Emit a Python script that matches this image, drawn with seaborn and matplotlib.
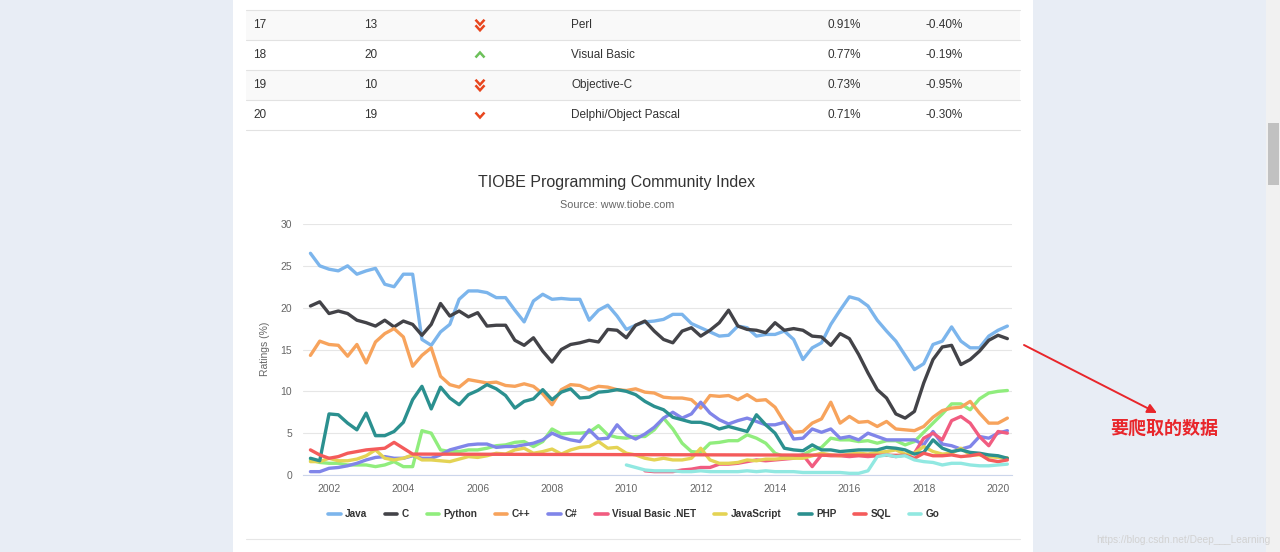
import numpy as np
import pandas as pd
import matplotlib.pyplot as plt
import seaborn as sns
from matplotlib.lines import Line2D
from matplotlib.patches import Rectangle

# quarterly sample points (mid 2001 .. Q1 2020)
years = np.arange(2001.5, 2020.3, 0.25)

java = [26.5, 25.0,
        24.6, 24.4, 25.0, 24.0,  24.4, 24.7, 22.8, 22.5,
        24.0, 24.0, 16.2, 15.5,  17.1, 18.0, 21.0, 22.0,
        22.0, 21.8, 21.2, 21.2,  19.7, 18.3, 20.8, 21.6,
        21.0, 21.1, 21.0, 21.0,  18.5, 19.7, 20.3, 19.0,
        17.4, 17.9, 18.3, 18.4,  18.6, 19.2, 19.2, 18.1,
        17.6, 17.1, 16.6, 16.7,  17.8, 17.6, 16.6, 16.8,
        16.8, 17.2, 16.2, 13.8,  15.2, 15.8, 18.0, 19.7,
        21.3, 21.0, 20.2, 18.5,  17.2, 16.0, 14.3, 12.6,
        13.3, 15.6, 16.0, 17.7,  16.0, 15.2, 15.2, 16.6,
        17.3, 17.8]
c_lang = [20.2, 20.7,
          19.3, 19.6, 19.3, 18.5,  18.2, 17.8, 18.5, 17.7,
          18.4, 18.0, 16.7, 18.0,  20.5, 19.0, 19.6, 18.9,
          19.4, 17.8, 17.9, 17.9,  16.1, 15.5, 16.4, 14.8,
          13.5, 15.0, 15.6, 15.8,  16.1, 15.9, 17.4, 17.3,
          16.4, 17.9, 18.4, 17.2,  16.2, 15.8, 17.2, 17.6,
          16.6, 17.3, 18.2, 19.7,  17.8, 17.4, 17.3, 17.0,
          18.2, 17.3, 17.5, 17.3,  16.6, 16.5, 15.5, 16.9,
          16.3, 14.4, 12.2, 10.2,  9.2, 7.3, 6.8, 7.6,
          11.0, 13.8, 15.3, 15.5,  13.2, 13.8, 14.8, 16.1,
          16.7, 16.3]
python = [1.8, 1.5,
          1.4, 1.4, 1.2, 1.2,  1.2, 1.0, 1.2, 1.6,
          1.0, 1.0, 5.3, 5.0,  3.0, 2.8, 2.8, 3.0,
          3.0, 3.2, 3.5, 3.6,  3.9, 4.0, 3.4, 4.0,
          5.5, 4.9, 5.0, 5.0,  5.1, 5.9, 4.8, 4.5,
          4.4, 4.6, 4.6, 5.4,  6.8, 5.5, 3.8, 2.8,
          2.7, 3.8, 3.9, 4.1,  4.1, 4.8, 4.4, 3.8,
          2.6, 2.2, 2.2, 2.4,  3.0, 3.3, 4.4, 4.2,
          4.2, 4.0, 4.1, 3.8,  4.1, 4.1, 3.6, 4.0,
          5.1, 6.2, 7.3, 8.5,  8.5, 7.8, 9.1, 9.8,
          10.0, 10.1]
cpp = [14.3, 16.0,
       15.6, 15.5, 14.2, 15.6,  13.4, 15.9, 16.9, 17.5,
       16.5, 13.0, 14.3, 15.2,  11.8, 10.8, 10.5, 11.4,
       11.2, 11.0, 11.1, 10.7,  10.6, 10.9, 10.6, 9.7,
       8.4, 10.2, 10.8, 10.7,  10.2, 10.6, 10.5, 10.2,
       10.1, 10.3, 9.9, 9.8,  9.3, 9.2, 9.2, 9.0,
       8.0, 9.5, 9.4, 9.5,  9.0, 9.6, 8.9, 9.0,
       8.1, 6.3, 5.1, 5.2,  6.2, 6.7, 8.7, 6.2,
       7.0, 6.3, 6.4, 5.8,  6.4, 5.5, 5.4, 5.3,
       5.8, 6.9, 7.7, 8.0,  8.1, 8.8, 7.4, 6.2,
       6.2, 6.8]
csharp = [0.4, 0.4,
          0.8, 0.9, 1.1, 1.4,  1.8, 2.1, 2.2, 2.0,
          2.0, 2.3, 2.0, 2.0,  2.4, 3.0, 3.3, 3.6,
          3.7, 3.7, 3.3, 3.4,  3.4, 3.6, 3.8, 4.2,
          5.0, 4.5, 4.2, 4.0,  5.4, 4.3, 4.4, 6.0,
          4.8, 4.3, 4.9, 5.7,  6.8, 7.5, 6.8, 7.3,
          8.7, 7.4, 6.6, 6.1,  6.5, 6.8, 6.4, 6.0,
          6.0, 6.3, 4.3, 4.4,  5.5, 5.1, 5.5, 4.4,
          4.6, 4.2, 5.0, 4.6,  4.2, 4.2, 4.2, 4.2,
          3.6, 5.2, 3.7, 3.5,  3.1, 3.4, 4.6, 4.4,
          5.0, 5.3]
vbnet = [None, None,
         None, None, None, None,  None, None, None, None,
         None, None, None, None,  None, None, None, None,
         None, None, None, None,  None, None, None, None,
         None, None, None, None,  None, None, None, None,
         None, None, 0.5, 0.4,  0.4, 0.4, 0.6, 0.7,
         0.9, 0.9, 1.3, 1.3,  1.4, 1.6, 1.8, 1.7,
         1.8, 1.9, 2.0, 2.4,  1.0, 2.4, 2.3, 2.3,
         2.2, 2.3, 2.2, 2.3,  2.4, 2.2, 2.4, 2.6,
         4.4, 5.0, 4.2, 6.5,  7.0, 6.2, 4.6, 3.5,
         5.2, 5.0]
javascript = [1.6, 1.6,
              2.0, 1.7, 1.7, 1.9,  2.3, 3.0, 2.0, 1.8,
              2.0, 2.4, 1.8, 1.8,  1.7, 1.6, 1.9, 2.2,
              2.1, 2.3, 2.6, 2.5,  3.0, 3.2, 2.6, 2.8,
              3.1, 2.5, 3.0, 3.3,  3.4, 4.0, 3.2, 3.3,
              2.6, 2.4, 2.0, 1.8,  2.0, 1.8, 1.8, 2.0,
              3.2, 1.8, 1.4, 1.4,  1.5, 1.8, 1.7, 1.9,
              1.9, 2.0, 2.0, 2.0,  2.3, 2.6, 2.4, 2.3,
              2.5, 2.6, 2.5, 2.7,  2.8, 3.0, 2.5, 2.6,
              3.4, 2.8, 2.5, 2.6,  3.2, 2.4, 2.4, 2.2,
              2.1, 2.05]
php = [2.0, 1.7,
       7.3, 7.2, 6.2, 5.4,  7.4, 4.7, 4.7, 5.2,
       6.3, 9.0, 10.6, 7.9,  10.5, 9.2, 8.4, 9.6,
       10.1, 10.8, 10.3, 9.5,  8.0, 8.8, 9.1, 10.2,
       9.0, 9.9, 10.3, 9.2,  9.3, 9.9, 10.0, 10.2,
       10.0, 9.6, 8.8, 8.2,  7.8, 6.9, 6.6, 6.3,
       6.3, 6.0, 5.5, 5.8,  5.5, 5.2, 7.2, 6.0,
       5.0, 3.2, 3.0, 2.9,  3.6, 3.0, 3.0, 2.8,
       2.9, 3.0, 3.0, 3.0,  3.3, 3.2, 3.0, 2.5,
       2.7, 4.2, 3.2, 2.8,  3.0, 2.7, 2.6, 2.4,
       2.3, 2.0]
sql = [3.0, 2.4,
       2.0, 2.2, 2.6, 2.8,  3.0, 3.1, 3.2, 3.9,
       3.2, 2.5, None, None,  None, None, None, None,
       None, None, None, None,  None, None, None, None,
       None, None, None, None,  None, None, None, None,
       None, None, None, None,  None, None, None, None,
       None, None, None, None,  None, None, None, None,
       None, None, None, None,  None, None, None, None,
       None, None, None, None,  None, None, 2.35, 2.0,
       2.6, 2.3, 2.3, 2.4,  2.2, 2.3, 2.5, 1.8,
       1.6, 1.8]
go = [None, None,
      None, None, None, None,  None, None, None, None,
      None, None, None, None,  None, None, None, None,
      None, None, None, None,  None, None, None, None,
      None, None, None, None,  None, None, None, None,
      1.2, 0.9, 0.6, 0.5,  0.5, 0.5, 0.4, 0.4,
      0.5, 0.4, 0.4, 0.4,  0.4, 0.5, 0.4, 0.5,
      0.4, 0.4, 0.4, 0.3,  0.3, 0.3, 0.3, 0.3,
      0.2, 0.2, 0.5, 2.2,  2.4, 2.2, 2.3, 1.8,
      1.6, 1.5, 1.2, 1.4,  1.4, 1.2, 1.1, 1.1,
      1.2, 1.3]

languages = ['Java', 'C', 'Python', 'C++', 'C#', 'Visual Basic .NET',
             'JavaScript', 'PHP', 'SQL', 'Go']
colors = ['#7cb5ec', '#434348', '#90ed7d', '#f7a35c', '#8085e9',
          '#f15c80', '#e4d354', '#2b908f', '#f45b5b', '#91e8e1']
year_ticks = [2002, 2004, 2006, 2008, 2010, 2012, 2014, 2016, 2018, 2020]
rating_ticks = [0, 5, 10, 15, 20, 25, 30]

# table rows above the chart
ranks = ['17', '18', '19', '20']
prev_ranks = ['13', '20', '10', '19']
table_langs = ['Perl', 'Visual Basic', 'Objective-C', 'Delphi/Object Pascal']
table_ratings = ['0.91%', '0.77%', '0.73%', '0.71%']
table_changes = ['-0.40%', '-0.19%', '-0.95%', '-0.30%']
trends = ['down2', 'up', 'down2', 'down']

wide = pd.DataFrame({'year': years})
for name, vals in zip(languages, [java, c_lang, python, cpp, csharp, vbnet,
                                  javascript, php, sql, go]):
    wide[name] = pd.to_numeric(pd.Series(vals), errors='coerce')
df = wide.melt(id_vars='year', var_name='language', value_name='rating').dropna()

sns.set_style('white')
plt.rcParams['font.family'] = ['Liberation Sans', 'DejaVu Sans']

W, H = 1280, 552
fig = plt.figure(figsize=(12.8, 5.52), dpi=100)
fig.patch.set_facecolor('#e8edf5')

# page layer in pixel coordinates
page = fig.add_axes([0, 0, 1, 1])
page.set_xlim(0, W)
page.set_ylim(H, 0)
page.axis('off')
page.add_patch(Rectangle((233, 0), 800, H, color='white', lw=0))
page.add_patch(Rectangle((1266, 0), 14, H, color='#f1f1f1', lw=0))
page.add_patch(Rectangle((1267.5, 123), 11, 62, color='#c1c1c1', lw=0))


def chevron(x, y, up, color):
    d = -1 if up else 1
    page.plot([x - 4.5, x, x + 4.5], [y - 2.5 * d, y + 2.5 * d, y - 2.5 * d],
              color=color, lw=1.8, solid_joinstyle='miter', solid_capstyle='butt')


page.plot([246, 1020], [10, 10], color='#e2e2e2', lw=0.8)
for i in range(len(ranks)):
    yc = 25 + 30 * i
    if i % 2 == 0:
        page.add_patch(Rectangle((246, yc - 15), 774, 30, color='#f9f9f9', lw=0))
    page.plot([246, 1020], [yc + 15, yc + 15], color='#e2e2e2', lw=0.8)
    tkw = dict(va='center', ha='left', fontsize=8.5, color='#333333')
    page.text(253, yc, ranks[i], **tkw)
    page.text(364, yc, prev_ranks[i], **tkw)
    page.text(571, yc, table_langs[i], **tkw)
    page.text(828, yc, table_ratings[i], **tkw)
    page.text(926, yc, table_changes[i], **tkw)
    if trends[i] == 'up':
        chevron(480, yc, True, '#6cc05a')
    elif trends[i] == 'down':
        chevron(480, yc, False, '#e8461e')
    else:
        chevron(480, yc - 2.8, False, '#e8461e')
        chevron(480, yc + 2.8, False, '#e8461e')

page.text(617, 182, 'TIOBE Programming Community Index', ha='center',
          va='center', fontsize=11.5, color='#333333')
page.text(617, 205, 'Source: www.tiobe.com', ha='center', va='center',
          fontsize=7.8, color='#666666')
page.text(265, 349, 'Ratings (%)', rotation=90, ha='center', va='center',
          fontsize=7.5, color='#666666')
page.plot([246, 1020], [539, 539], color='#e6e6e6', lw=0.8)

# annotation
page.annotate('', xy=(1157, 413), xytext=(1024, 345),
              arrowprops=dict(arrowstyle='-|>', color='#e8262b', lw=1.4,
                              mutation_scale=14, shrinkA=0, shrinkB=0))
page.text(1164, 428, '要爬取的数据', family=['Noto Sans CJK SC', 'DejaVu Sans'],
          fontweight='bold', fontsize=13, color='#e8262b', ha='center', va='center')
page.text(1183, 540, 'https://blog.csdn.net/Deep___Learning', ha='center',
          va='center', fontsize=7.3, color='#d2d2d2')

# the chart itself
ax = fig.add_axes([303 / W, 1 - 475 / H, (1012 - 303) / W, (475 - 224) / H])
ax.set_facecolor('none')
sns.lineplot(data=df, x='year', y='rating', hue='language', hue_order=languages,
             palette=colors, linewidth=2.4, estimator=None, legend=False, ax=ax,
             solid_joinstyle='round', solid_capstyle='round')
ax.set_xlim(2001.30, 2020.375)
ax.set_ylim(0, 30)
ax.set_xticks(year_ticks)
ax.set_yticks(rating_ticks)
ax.set_xlabel('')
ax.set_ylabel('')
ax.grid(axis='y', color='#e6e6e6', lw=0.8)
ax.set_axisbelow(True)
for s in ['top', 'right', 'left']:
    ax.spines[s].set_visible(False)
ax.spines['bottom'].set_color('#ccd6eb')
ax.spines['bottom'].set_linewidth(0.8)
ax.tick_params(axis='y', length=0, pad=8, labelsize=7.5, labelcolor='#666666')
ax.tick_params(axis='x', length=5, width=0.8, color='#ccd6eb', pad=1.5,
               labelsize=7.5, labelcolor='#666666')

handles = [Line2D([], [], color=col, lw=2.6, solid_capstyle='round') for col in colors]
fig.legend(handles, languages, ncol=10, loc='center',
           bbox_to_anchor=(634 / W, 1 - 514 / H), frameon=False,
           prop={'weight': 'bold', 'size': 7.2}, labelcolor='#333333',
           handlelength=1.25, handletextpad=0.45, columnspacing=1.75)

fig.savefig('out.png', dpi=100, facecolor=fig.get_facecolor())
